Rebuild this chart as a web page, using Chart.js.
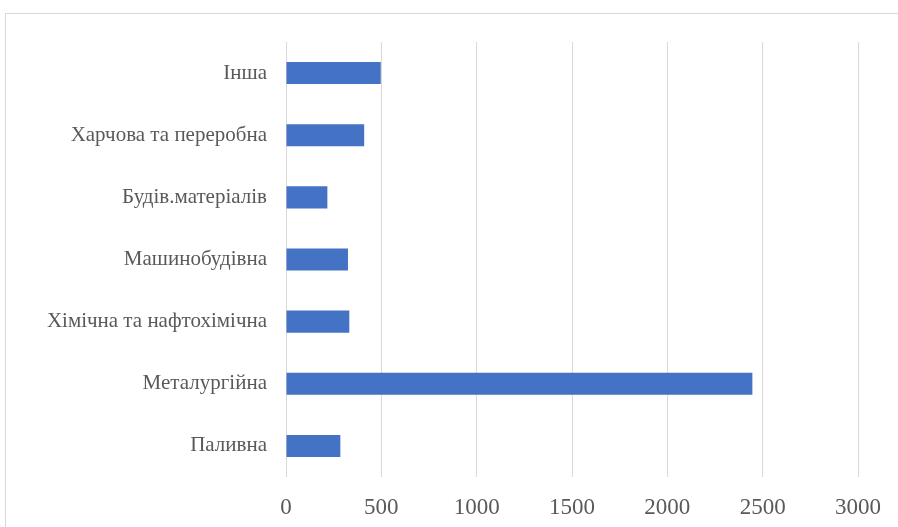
<!DOCTYPE html>
<html>
<head>
<meta charset="utf-8">
<script src="https://cdn.jsdelivr.net/npm/chart.js@4"></script>
<style>
  html, body { margin: 0; padding: 0; background: #fff; }
  #wrap { width: 898px; height: 527px; }
</style>
</head>
<body>
<div id="wrap"><canvas id="canvas1" width="898" height="527"></canvas></div>
<script>
// галузі, знизу вгору як в Excel
const industries = ['Паливна', 'Металургійна', 'Хімічна та нафтохімічна', 'Машинобудівна',
  'Будів.матеріалів', 'Харчова та переробна', 'Інша'];
const values = [285, 2446, 332, 325, 217, 410, 497];
const axisMin = 0;
const axisMax = 3000;
const axisStep = 500;

const textColor = '#595959';
const gridColor = '#d9d9d9';
const fontFamily = '"Liberation Serif", "Times New Roman", serif';

// рамка області діаграми
const frame = {
  id: 'frame',
  beforeDraw(chart) {
    const c = chart.ctx;
    c.save();
    c.fillStyle = '#fff';
    c.fillRect(0, 0, chart.width, chart.height);
    c.strokeStyle = '#d9d9d9';
    c.lineWidth = 1;
    c.strokeRect(5.5, 13.5, 1000, 1000);
    c.restore();
  }
};

const ctx = document.getElementById('canvas1');
const chart1 = new Chart(ctx, {
  type: 'bar',
  data: {
    labels: industries,
    datasets: [{
      data: values,
      backgroundColor: '#4472C4',
      borderWidth: 0,
      categoryPercentage: 1,
      barPercentage: 0.355
    }]
  },
  options: {
    indexAxis: 'y',
    responsive: false,
    animation: false,
    layout: { padding: { left: 0, right: 19, top: 42, bottom: 0 } },
    plugins: { legend: { display: false }, tooltip: { enabled: false } },
    scales: {
      x: {
        min: axisMin,
        max: axisMax,
        ticks: {
          stepSize: axisStep,
          color: textColor,
          font: { family: fontFamily, size: 23 },
          padding: 17,
          callback: (v) => String(v)
        },
        grid: { color: gridColor, lineWidth: 1, drawTicks: false },
        border: { display: false },
        afterFit(scale) { scale.height = 50; }
      },
      y: {
        reverse: true,
        ticks: { color: textColor, font: { family: fontFamily, size: 21 }, padding: 19 },
        grid: { display: false, drawTicks: false },
        border: { display: false },
        afterFit(scale) { scale.width = 286; }
      }
    }
  },
  plugins: [frame]
});
</script>
</body>
</html>
